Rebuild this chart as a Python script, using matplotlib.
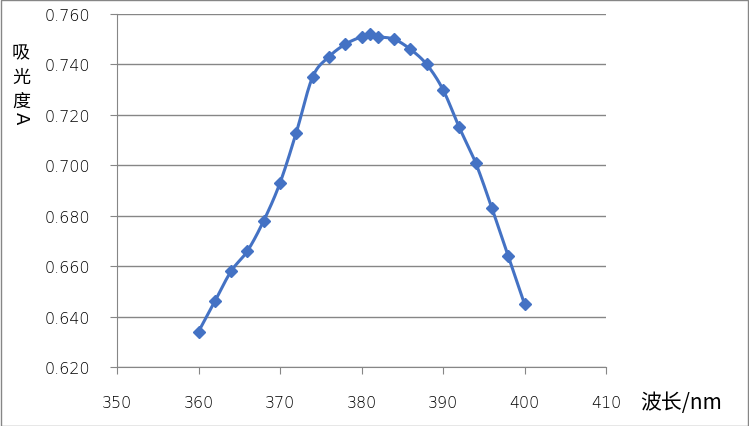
import matplotlib.pyplot as plt
import numpy as np
from matplotlib.patches import Rectangle

plt.rcParams['font.family'] = ['Noto Sans CJK SC', 'DejaVu Sans']

wavelength = [360, 362, 364, 366, 368, 370, 372, 374, 376, 378, 380, 381, 382,
              384, 386, 388, 390, 392, 394, 396, 398, 400]
absorbance = [0.634, 0.646, 0.658, 0.666, 0.678, 0.693, 0.713, 0.735, 0.743, 0.748,
              0.751, 0.752, 0.751, 0.750, 0.746, 0.740, 0.730, 0.715, 0.701, 0.683,
              0.664, 0.645]
xticks = [350, 360, 370, 380, 390, 400, 410]
yticks = [0.620, 0.640, 0.660, 0.680, 0.700, 0.720, 0.740, 0.760]


def smooth(x, y, n=20):
    # catmull-rom style smoothing, like excel's "smoothed line"
    x = np.asarray(x, float)
    y = np.asarray(y, float)
    px = np.concatenate([[x[0]], x, [x[-1]]])
    py = np.concatenate([[y[0]], y, [y[-1]]])
    xs, ys = [], []
    t = np.linspace(0, 1, n)
    for i in range(1, len(px) - 2):
        p0, p1, p2, p3 = (np.array([px[j], py[j]]) for j in range(i - 1, i + 3))
        c1 = p1 + (p2 - p0) / 6
        c2 = p2 - (p3 - p1) / 6
        b = ((1 - t) ** 3)[:, None] * p1 + (3 * (1 - t) ** 2 * t)[:, None] * c1 \
            + (3 * (1 - t) * t ** 2)[:, None] * c2 + (t ** 3)[:, None] * p2
        xs.extend(b[:, 0])
        ys.extend(b[:, 1])
    return xs, ys


fig = plt.figure(figsize=(7.49, 4.27), dpi=100)
ax = fig.add_axes([117 / 749, 1 - 368 / 427, (606 - 117) / 749, (368 - 15) / 427])

color = '#4472C4'
sx, sy = smooth(wavelength, absorbance)
ax.plot(sx, sy, color=color, linewidth=2.2, zorder=3)
ax.plot(wavelength, absorbance, linestyle='none', marker='D', markersize=6.5,
        color=color, zorder=4)

ax.set_xlim(350, 410)
ax.set_ylim(0.620, 0.760)
ax.set_xticks(xticks)
ax.set_yticks(yticks)
ax.set_yticklabels([f'{v:.3f}' for v in yticks])
ax.grid(axis='y', color='#868686', linewidth=1)
ax.set_axisbelow(True)
for s in ['top', 'right']:
    ax.spines[s].set_visible(False)
for s in ['left', 'bottom']:
    ax.spines[s].set_color('#868686')
ax.tick_params(axis='both', colors='#868686', labelcolor='#000000',
               length=5, direction='out')
for lab in ax.get_xticklabels() + ax.get_yticklabels():
    lab.set_fontfamily('DejaVu Sans')
    lab.set_fontsize(11.5)
    lab.set_fontweight('light')
ax.tick_params(axis='x', pad=15)
ax.tick_params(axis='y', pad=14)

# vertical y-axis title: stacked characters, latin letter rotated
for ch, yc in zip('吸光度', [53, 78, 102]):
    fig.text(21 / 749, 1 - yc / 427, ch, fontsize=13, ha='center', va='center')
fig.text(21 / 749, 1 - 118 / 427, 'A', fontsize=13, ha='center', va='center',
         rotation=-90, family=['DejaVu Sans'])
fig.text(681 / 749, 1 - 403 / 427, '波长/nm', fontsize=15, ha='center', va='center')

fig.patches.append(Rectangle((0.5 / 749, 0.5 / 427), 1 - 1.5 / 749, 1 - 1.5 / 427,
                             transform=fig.transFigure, fill=False,
                             edgecolor='#868686', linewidth=1))

plt.savefig('out.png', dpi=100)
